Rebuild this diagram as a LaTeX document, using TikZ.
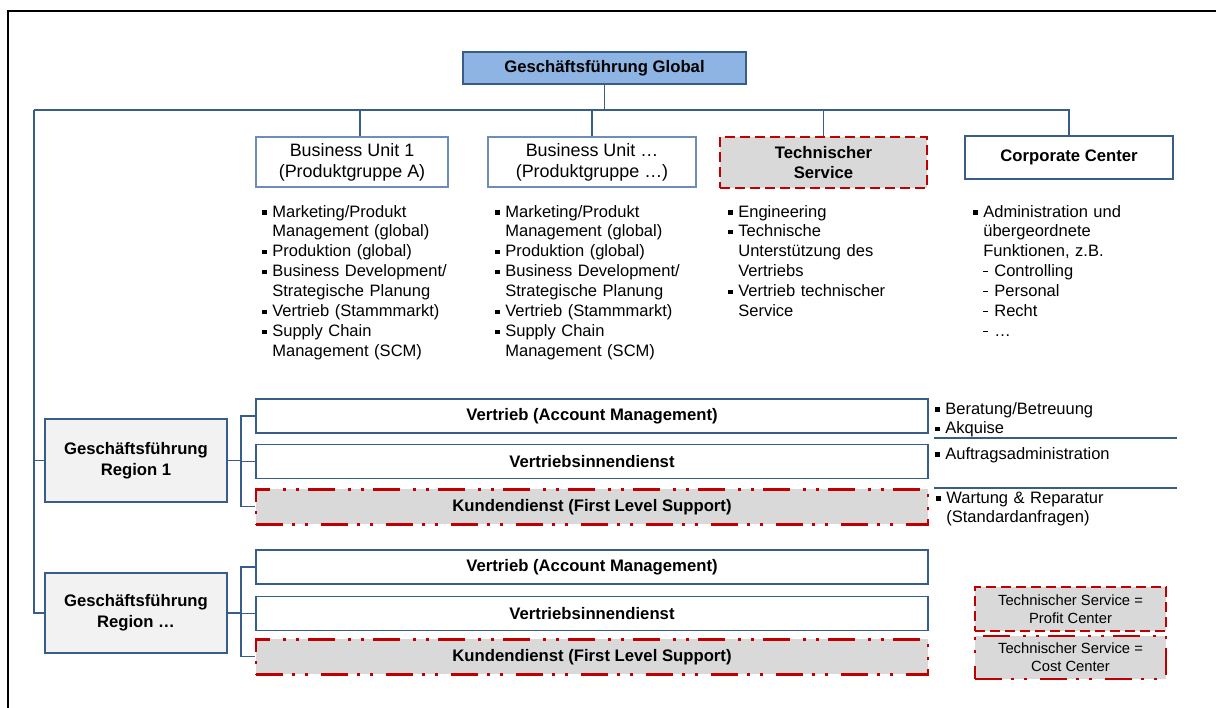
\documentclass[tikz,border=0pt]{standalone}
\usepackage{fontspec}
\setmainfont{Liberation Sans}
\usetikzlibrary{positioning}
\definecolor{OrgBlue}{HTML}{385D8A}
\definecolor{UnitBlue}{HTML}{6F8DB9}
\definecolor{GlobalFill}{HTML}{8EB4E3}
\definecolor{RegionFill}{HTML}{F2F2F2}
\definecolor{ServiceGrey}{HTML}{D9D9D9}
\definecolor{ServiceRed}{HTML}{C00000}

\newcommand{\boxfont}{\fontsize{9.5}{11.9}\selectfont}
\newcommand{\unitfont}{\fontsize{10.2}{11.9}\selectfont}
\newcommand{\taskfont}{\fontsize{9.4}{11.34}\selectfont}
\newcommand{\keyfont}{\fontsize{8.4}{10.2}\selectfont}
\newcommand{\bul}{\makebox[0.2cm][l]{\rule[0.05cm]{0.09cm}{0.09cm}}}
\newcommand{\itm}[1]{\hangindent=0.2cm\hangafter=1\noindent\bul#1\par}
\newcommand{\dsh}[1]{\hangindent=0.2cm\hangafter=0\noindent\makebox[0.22cm][l]{\rule[0.1cm]{0.1cm}{0.02cm}}#1\par}

\tikzset{
  orgbox/.style={draw=OrgBlue, line width=0.7pt, fill=white, align=center, inner sep=2pt, font=\boxfont\bfseries},
  unitbox/.style={draw=UnitBlue, line width=0.7pt, fill=white, align=center, inner sep=2pt, font=\unitfont},
  servicebox/.style={draw=ServiceRed, line width=1.6pt, fill=ServiceGrey, dash pattern=on 0.2cm off 0.1cm},
  supportbox/.style={draw=ServiceRed, line width=1.6pt, fill=ServiceGrey,
    dash pattern=on 0.54cm off 0.18cm on 0.06cm off 0.2cm on 0.06cm off 0.26cm},
  tasklist/.style={anchor=base west, inner sep=0pt, text width=5cm, align=left, font=\taskfont},
  link/.style={draw=OrgBlue, line width=0.8pt},
}

\begin{document}
\begin{tikzpicture}[x=0.02cm, y=-0.02cm]
  \useasboundingbox (0,0) rectangle (1216,707);
  % frame
  \draw[line width=1.1pt] (8,730) |- (1230,11);

  % top level
  \node[orgbox, fill=GlobalFill, minimum width=5.66cm, minimum height=0.64cm] (gfg) at (604.5,68) {Geschäftsführung Global};
  \node[unitbox, minimum width=3.84cm, minimum height=1cm] (bu1) at (352,162) {Business Unit 1\\(Produktgruppe A)};
  \node[unitbox, minimum width=4.16cm, minimum height=1cm] (bun) at (592,162) {Business Unit …\\(Produktgruppe …)};
  \node[orgbox, servicebox, minimum width=4.14cm, minimum height=1.02cm] (tech) at (823.5,162.5) {Technischer\\Service};
  \node[orgbox, minimum width=4.16cm, minimum height=0.86cm] (cc) at (1069,157.5) {Corporate Center};

  % task lists
  \node[tasklist] (lbu1) at (262,217) {\itm{Marketing/Produkt\newline Management (global)}\itm{Produktion (global)}\itm{Business Development/\newline Strategische Planung}\itm{Vertrieb (Stammmarkt)}\itm{Supply Chain\newline Management (SCM)}};
  \node[tasklist] (lbun) at (495,217) {\itm{Marketing/Produkt\newline Management (global)}\itm{Produktion (global)}\itm{Business Development/\newline Strategische Planung}\itm{Vertrieb (Stammmarkt)}\itm{Supply Chain\newline Management (SCM)}};
  \node[tasklist] (ltech) at (728,217) {\itm{Engineering}\itm{Technische\newline Unterstützung des\newline Vertriebs}\itm{Vertrieb technischer\newline Service}};
  \node[tasklist] (lcc) at (973,217) {\itm{Administration und\newline übergeordnete\newline Funktionen, z.B.}\dsh{Controlling}\dsh{Personal}\dsh{Recht}\dsh{…}};

  % regions
  \node[orgbox, fill=RegionFill, minimum width=3.64cm, minimum height=1.66cm] (reg1) at (136,460.5) {Geschäftsführung\\Region 1};
  \node[orgbox, fill=RegionFill, minimum width=3.64cm, minimum height=1.6cm] (regn) at (136,613) {Geschäftsführung\\Region …};

  \node[orgbox, minimum width=13.44cm, minimum height=0.68cm] (va1) at (592,416) {Vertrieb (Account Management)};
  \node[orgbox, minimum width=13.44cm, minimum height=0.68cm, below=0.2cm of va1] (vi1) {Vertriebsinnendienst};
  \node[orgbox, supportbox, minimum width=13.44cm, minimum height=0.7cm, below=0.18cm of vi1] (kd1) {Kundendienst (First Level Support)};

  \node[orgbox, minimum width=13.44cm, minimum height=0.68cm] (va2) at (592,567) {Vertrieb (Account Management)};
  \node[orgbox, minimum width=13.44cm, minimum height=0.68cm, below=0.22cm of va2] (vi2) {Vertriebsinnendienst};
  \node[orgbox, supportbox, minimum width=13.44cm, minimum height=0.7cm, below=0.14cm of vi2] (kd2) {Kundendienst (First Level Support)};

  % notes right of region 1
  \node[tasklist] (nva) at (935,414) {\itm{Beratung/Betreuung}\itm{Akquise}};
  \node[tasklist] (nvi) at (935,459) {\itm{Auftragsadministration}};
  \node[tasklist] (nkd) at (936,503) {\itm{Wartung \& Reparatur\newline (Standardanfragen)}};
  \draw[OrgBlue, line width=1.2pt] (934,438) -- (1177,438);
  \draw[OrgBlue, line width=1.2pt] (934,488) -- (1177,488);

  % legend
  \node[servicebox, minimum width=3.82cm, minimum height=0.88cm, align=center, font=\keyfont] (kprofit) at (1070.5,609) {Technischer Service =\\Profit Center};
  \node[supportbox, minimum width=3.82cm, minimum height=0.86cm, align=center, font=\keyfont] (kcost) at (1070.5,657.5) {Technischer Service =\\Cost Center};

  % connectors
  \coordinate (bus) at (604.5,110);
  \coordinate (busl) at (34,110);
  \coordinate (j1) at (241,460.5);
  \coordinate (jn) at (241,613);
  \draw[link] (gfg.south) -- (bus);
  \draw[link] (busl) -| (cc.north);
  \draw[link] ([xshift=0.16cm]bu1.north) |- (bus);
  \draw[link] (bun.north) |- (bus);
  \draw[link] (tech.north) |- (bus);
  \draw[link] (busl) |- (regn.west);
  \draw[link] (busl |- reg1.west) -- (reg1.west);
  \draw[link] (reg1.east) -- (j1);
  \draw[link] (va1.west) -| (j1);
  \draw[link] (vi1.west) -| (j1);
  \draw[link] (kd1.west) -| (j1);
  \draw[link] (regn.east) -- (jn);
  \draw[link] (va2.west) -| (jn);
  \draw[link] (vi2.west) -| (jn);
  \draw[link] (kd2.west) -| (jn);
\end{tikzpicture}
\end{document}
